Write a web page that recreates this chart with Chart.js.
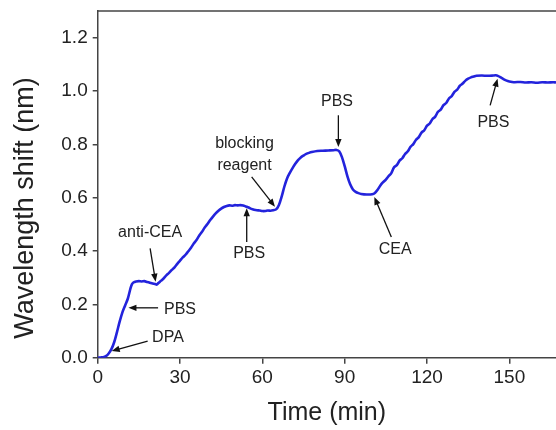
<!DOCTYPE html>
<html>
<head>
<meta charset="utf-8">
<script src="https://cdn.jsdelivr.net/npm/chart.js@4.4.0/dist/chart.umd.min.js"></script>
<style>
  html, body { margin: 0; padding: 0; background: #fff; }
  #wrap { width: 556px; height: 430px; }
</style>
</head>
<body>
<div id="wrap"><canvas id="myChart"></canvas></div>
<script>
// time in minutes
var times = [0,1,2,3,4,5,6,7,8,9,10,11,12,12.5,13,14,15,16,17,18,19,20,21,21.5,22,23,24,25,26,27,28,29,
  30,31,32,33,34,35,36,37,38,39,40,41,42,43,44,45,46,47,48,49,50,51,52,53,54,55,56,57,58,59,
  60,61,62,63,64,65,66,67,68,69,70,71,72,73,74,75,76,77,78,80,82,84,86,87,88,89,
  90,91,92,93,94,95,96,98,100,101,102,103,104,105,106,107,108,109,110,111,112,113,114,115,116,117,118,119,
  120,121,122,123,124,125,126,127,128,129,130,131,132,133,134,135,136,137,138,140,142,144,145,146,147,148,149,
  150,151,152,154,156,158,160,162,164,166,167];
// wavelength shift in nm
var shift = [0.000,0.001,0.002,0.006,0.016,0.032,0.058,0.095,0.135,0.170,0.196,0.222,0.262,0.276,0.282,0.286,0.287,0.286,0.287,0.284,0.281,0.278,0.276,0.274,0.279,0.288,0.297,0.309,0.318,0.329,0.339,0.352,
  0.364,0.376,0.386,0.399,0.412,0.428,0.441,0.458,0.472,0.488,0.501,0.516,0.529,0.541,0.551,0.559,0.565,0.569,0.571,0.570,0.572,0.571,0.572,0.571,0.567,0.563,0.558,0.555,0.553,0.552,
  0.550,0.550,0.552,0.551,0.553,0.556,0.572,0.603,0.641,0.672,0.693,0.711,0.727,0.741,0.751,0.758,0.764,0.768,0.771,0.775,0.776,0.777,0.778,0.779,0.774,0.752,
  0.718,0.680,0.650,0.631,0.622,0.617,0.614,0.612,0.613,0.618,0.630,0.646,0.658,0.668,0.681,0.692,0.714,0.722,0.739,0.748,0.764,0.774,0.791,0.801,0.817,0.827,0.844,0.853,
  0.870,0.878,0.895,0.904,0.922,0.930,0.947,0.955,0.972,0.981,0.997,1.005,1.020,1.028,1.039,1.046,1.051,1.054,1.057,1.058,1.057,1.058,1.059,1.056,1.050,1.044,1.039,
  1.036,1.034,1.033,1.034,1.032,1.033,1.031,1.033,1.032,1.033,1.032];

var xTicks = [0, 30, 60, 90, 120, 150];
var yTicks = [0, 0.2, 0.4, 0.6, 0.8, 1.0, 1.2];

// annotations: label text, text centre, arrow tail and arrow tip (data units)
var notes = [
  { text: ['DPA'], at: [25.6, 0.076], from: [18.2, 0.062], to: [5.1, 0.025] },
  { text: ['PBS'], at: [30.0, 0.179], from: [22.0, 0.187], to: [11.2, 0.187] },
  { text: ['anti-CEA'], at: [19.1, 0.470], from: [19.1, 0.410], to: [21.1, 0.285] },
  { text: ['PBS'], at: [55.2, 0.391], from: [54.3, 0.434], to: [54.3, 0.560] },
  { text: ['blocking', 'reagent'], at: [53.5, 0.804], from: [56.1, 0.678], to: [64.6, 0.566] },
  { text: ['PBS'], at: [87.2, 0.961], from: [87.7, 0.909], to: [87.7, 0.790] },
  { text: ['CEA'], at: [108.4, 0.406], from: [107.0, 0.453], to: [100.8, 0.603] },
  { text: ['PBS'], at: [144.2, 0.880], from: [143.0, 0.946], to: [145.7, 1.046] }
];

var yTitle = 'Wavelength shift (nm)';
var xTitle = 'Time (min)';

Chart.defaults.font.family = '"Liberation Sans", Arial, sans-serif';
Chart.defaults.color = '#222';

function arrow(ctx, x1, y1, x2, y2) {
  var a = Math.atan2(y2 - y1, x2 - x1);
  var len = 8, w = 3.2;
  ctx.beginPath();
  ctx.moveTo(x1, y1);
  ctx.lineTo(x2 - Math.cos(a) * len * 0.8, y2 - Math.sin(a) * len * 0.8);
  ctx.stroke();
  ctx.beginPath();
  ctx.moveTo(x2, y2);
  ctx.lineTo(x2 - Math.cos(a) * len + Math.sin(a) * w, y2 - Math.sin(a) * len - Math.cos(a) * w);
  ctx.lineTo(x2 - Math.cos(a) * len - Math.sin(a) * w, y2 - Math.sin(a) * len + Math.cos(a) * w);
  ctx.closePath();
  ctx.fill();
}

var extras = {
  id: 'extras',
  afterDraw: function(chart) {
    var ctx = chart.ctx, area = chart.chartArea;
    var xs = chart.scales.x, ys = chart.scales.y;
    ctx.save();
    // top frame line
    ctx.strokeStyle = '#444';
    ctx.lineWidth = 1.5;
    ctx.beginPath();
    ctx.moveTo(area.left, area.top);
    ctx.lineTo(chart.width, area.top);
    ctx.stroke();

    // y title
    ctx.fillStyle = '#222';
    ctx.font = '27px "Liberation Sans", Arial, sans-serif';
    ctx.textAlign = 'center';
    ctx.textBaseline = 'middle';
    ctx.translate(26, 208);
    ctx.rotate(-Math.PI / 2);
    ctx.fillText(yTitle, 0, 0);
    ctx.restore();

    // annotations
    ctx.save();
    ctx.strokeStyle = '#111';
    ctx.fillStyle = '#111';
    ctx.lineWidth = 1.3;
    notes.forEach(function(n) {
      arrow(ctx, xs.getPixelForValue(n.from[0]), ys.getPixelForValue(n.from[1]),
        xs.getPixelForValue(n.to[0]), ys.getPixelForValue(n.to[1]));
    });
    ctx.fillStyle = '#222';
    ctx.font = '16px "Liberation Sans", Arial, sans-serif';
    ctx.textAlign = 'center';
    ctx.textBaseline = 'middle';
    notes.forEach(function(n) {
      var cx = xs.getPixelForValue(n.at[0]), cy = ys.getPixelForValue(n.at[1]);
      n.text.forEach(function(line, i) {
        ctx.fillText(line, cx, cy + i * 22);
      });
    });
    ctx.restore();
  }
};

window.onload = function() {
  var ctx = document.getElementById('myChart').getContext('2d');
  var pts = times.map(function(t, i) { return { x: t, y: shift[i] }; });
  window.myChart = new Chart(ctx, {
    type: 'line',
    data: {
      datasets: [{
        data: pts,
        borderColor: '#2323dc',
        borderWidth: 2.6,
        pointRadius: 0,
        tension: 0.3,
        fill: false
      }]
    },
    options: {
      responsive: true,
      maintainAspectRatio: false,
      animation: false,
      layout: { padding: { top: 11, right: 0, left: 0, bottom: 0 } },
      plugins: { legend: { display: false }, tooltip: { enabled: false } },
      scales: {
        x: {
          type: 'linear',
          min: 0,
          max: 167,
          afterBuildTicks: function(s) { s.ticks = xTicks.map(function(v) { return { value: v }; }); },
          afterFit: function(s) { s.height = 72.3; s.paddingLeft = 0; s.paddingRight = 0; },
          ticks: { font: { size: 19 }, color: '#222', padding: 3, maxRotation: 0 },
          grid: { display: true, drawOnChartArea: false, drawTicks: true, tickLength: 6, color: '#444', lineWidth: 1.5 },
          border: { display: true, color: '#444', width: 1.5 },
          title: { display: true, text: xTitle, font: { size: 25 }, color: '#222', padding: { top: 0, bottom: 2 } }
        },
        y: {
          min: 0,
          max: 1.3,
          afterBuildTicks: function(s) { s.ticks = yTicks.map(function(v) { return { value: v }; }); },
          afterFit: function(s) { s.width = 97.7; s.paddingTop = 0; s.paddingBottom = 0; },
          ticks: { font: { size: 19 }, color: '#222', padding: 5, callback: function(v) { return v.toFixed(1); } },
          grid: { display: true, drawOnChartArea: false, drawTicks: true, tickLength: 5, color: '#444', lineWidth: 1.5 },
          border: { display: true, color: '#444', width: 1.5 }
        }
      }
    },
    plugins: [extras]
  });
};
</script>
</body>
</html>
